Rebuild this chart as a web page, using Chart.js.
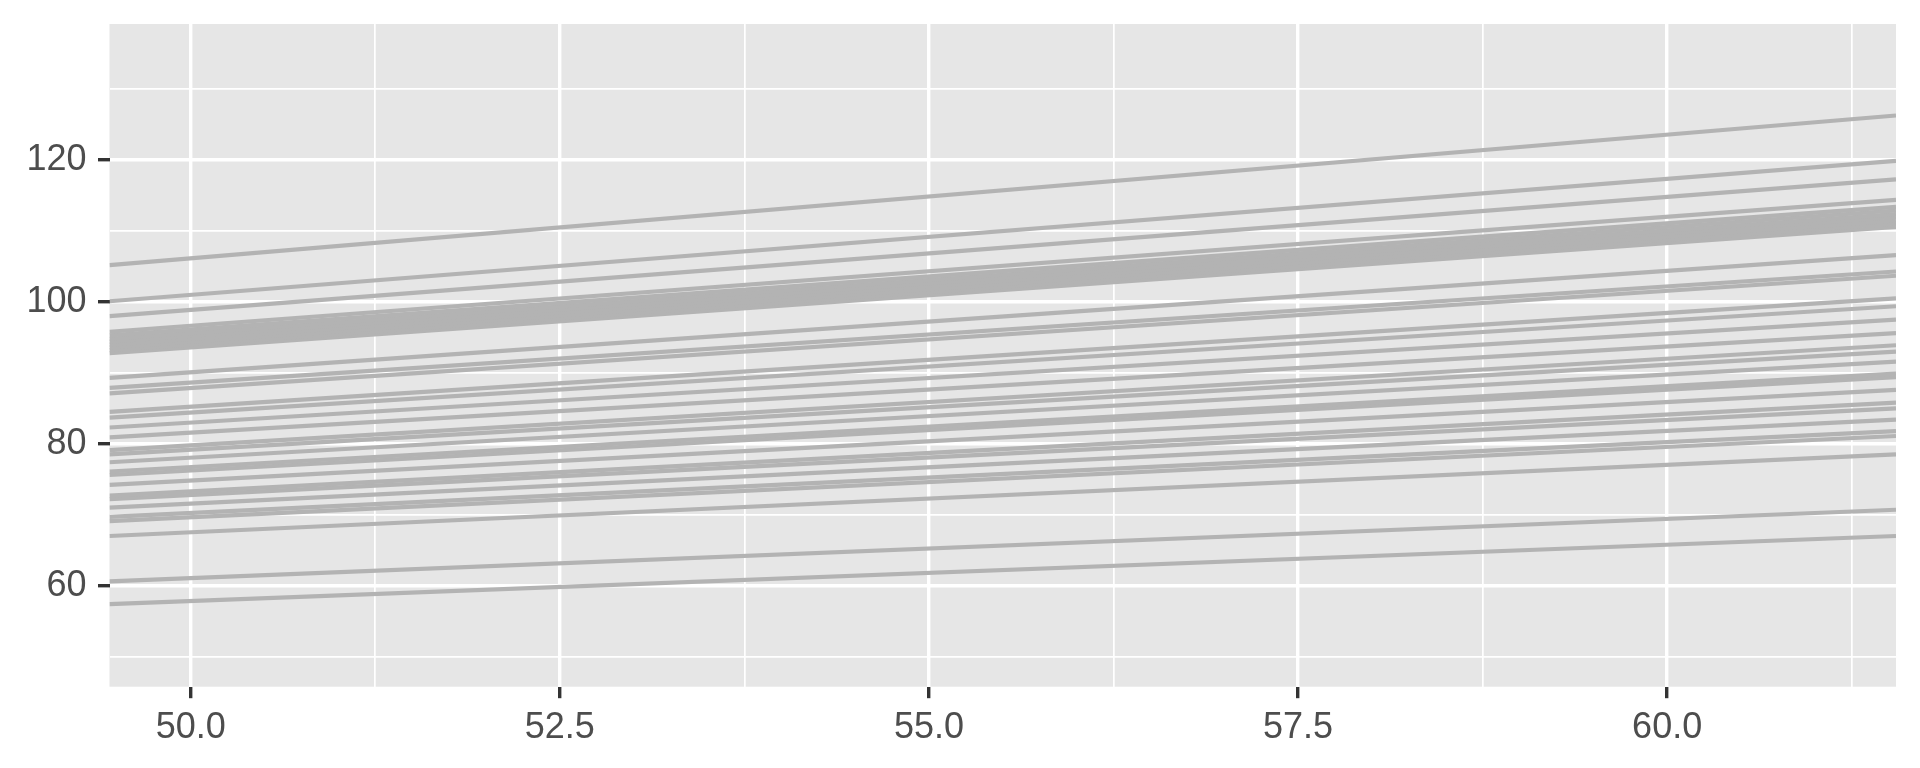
<!DOCTYPE html>
<html>
<head>
<meta charset="utf-8">
<script src="https://cdn.jsdelivr.net/npm/chart.js@4/dist/chart.umd.min.js"></script>
<style>
  html, body { margin: 0; padding: 0; background: #ffffff; }
  #chart { display: block; }
</style>
</head>
<body>
<canvas id="chart" width="1920" height="768"></canvas>
<script>
// x range covered by every line
var xStart = 49.45;
var xEnd = 61.55;

// line values at left and right edge of panel
var startValues = [105.2, 100.1, 98.0, 95.8, 95.3, 94.8, 94.4, 94.0, 93.6, 93.2, 92.8,
                   89.3, 87.9, 87.1, 84.5, 83.7, 82.3, 80.9, 79.1, 78.5, 77.4, 76.1,
                   75.6, 74.2, 72.7, 72.2, 71.0, 69.7, 69.1, 67.0, 60.6, 57.4];
var endValues = [126.3, 119.9, 117.3, 114.4, 113.4, 112.9, 112.4, 112.0, 111.5, 111.1, 110.6,
                 106.6, 104.3, 103.7, 100.5, 99.4, 97.5, 95.6, 93.9, 93.0, 91.6, 89.9,
                 89.4, 87.6, 85.8, 85.0, 83.4, 81.8, 81.1, 78.5, 70.7, 67.0];

// axis ticks
var xMajor = [50, 52.5, 55, 57.5, 60];
var xMinor = [51.25, 53.75, 56.25, 58.75, 61.25];
var yMajor = [60, 80, 100, 120];
var yMinor = [50, 70, 90, 110, 130];

var datasets = startValues.map(function (s, i) {
    return {
        data: [{x: xStart, y: s}, {x: xEnd, y: endValues[i]}],
        borderColor: "#b3b3b3",
        borderWidth: 4.2,
        pointRadius: 0,
        fill: false,
        tension: 0
    };
});

var panelBg = {
    id: "panelBg",
    beforeDraw: function (chart) {
        var a = chart.chartArea;
        var ctx = chart.ctx;
        ctx.save();
        ctx.fillStyle = "#e6e6e6";
        ctx.fillRect(a.left, a.top, a.right - a.left, a.bottom - a.top);
        ctx.restore();
    }
};

function allTicks(major, minor) {
    return major.concat(minor).sort(function (a, b) { return a - b; })
        .map(function (v) { return {value: v}; });
}

function isMajor(list, v) {
    return list.some(function (m) { return Math.abs(m - v) < 1e-9; });
}

// drop the extra space chart.js reserves for half of the end labels
function noEdgePadding(scale) {
    scale.paddingTop = 0;
    scale.paddingBottom = 0;
    scale.paddingLeft = 0;
    scale.paddingRight = 0;
}

new Chart(document.getElementById("chart"), {
    type: "line",
    data: { datasets: datasets },
    plugins: [panelBg],
    options: {
        responsive: false,
        animation: false,
        layout: { padding: { top: 24, right: 24, left: 0, bottom: 0 } },
        plugins: { legend: { display: false }, tooltip: { enabled: false } },
        scales: {
            x: {
                type: "linear",
                min: xStart,
                max: xEnd,
                afterBuildTicks: function (scale) { scale.ticks = allTicks(xMajor, xMinor); },
                afterFit: function (scale) { scale.height = 81.3; noEdgePadding(scale); },
                border: { display: false },
                grid: {
                    color: "#ffffff",
                    lineWidth: function (c) { return isMajor(xMajor, c.tick.value) ? 3.4 : 1.7; },
                    tickColor: function (c) { return isMajor(xMajor, c.tick.value) ? "#333333" : "rgba(0,0,0,0)"; },
                    tickWidth: 3.4,
                    tickLength: 11.5
                },
                ticks: {
                    autoSkip: false,
                    maxRotation: 0,
                    padding: 8,
                    color: "#4d4d4d",
                    font: { family: "Liberation Sans", size: 36 },
                    callback: function (v) { return isMajor(xMajor, v) ? v.toFixed(1) : ""; }
                }
            },
            y: {
                type: "linear",
                min: 45.75,
                max: 139.2,
                afterBuildTicks: function (scale) { scale.ticks = allTicks(yMajor, yMinor); },
                afterFit: function (scale) { scale.width = 109.5; noEdgePadding(scale); },
                border: { display: false },
                grid: {
                    color: "#ffffff",
                    lineWidth: function (c) { return isMajor(yMajor, c.tick.value) ? 3.4 : 1.7; },
                    tickColor: function (c) { return isMajor(yMajor, c.tick.value) ? "#333333" : "rgba(0,0,0,0)"; },
                    tickWidth: 3.4,
                    tickLength: 11.5
                },
                ticks: {
                    autoSkip: false,
                    padding: 11.5,
                    color: "#4d4d4d",
                    font: { family: "Liberation Sans", size: 36 },
                    callback: function (v) { return isMajor(yMajor, v) ? String(v) : ""; }
                }
            }
        }
    }
});
</script>
</body>
</html>
